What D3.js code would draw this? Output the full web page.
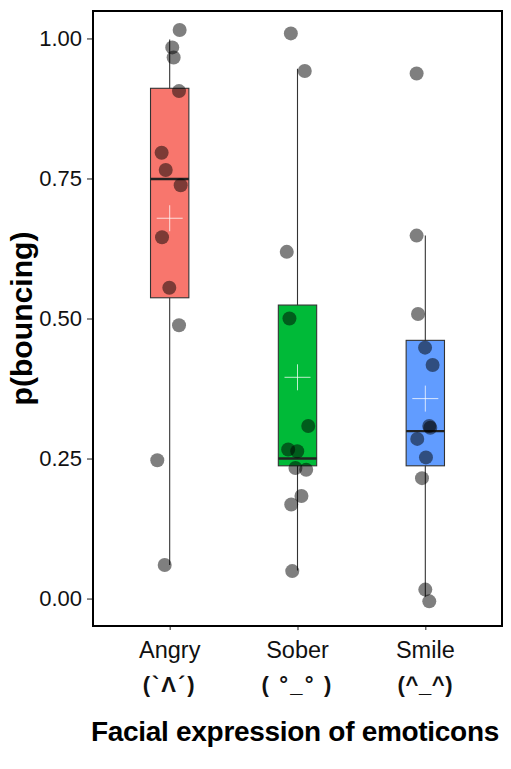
<!DOCTYPE html>
<html>
<head>
<meta charset="utf-8">
<script src="https://cdn.jsdelivr.net/npm/d3@7"></script>
<style>
  body { margin: 0; background: #fff; }
  svg text { font-family: "Liberation Sans", Arial, Helvetica, sans-serif; }
</style>
</head>
<body>
<div id="chart"></div>
<script>
// categories and labels
const categories = ["Angry", "Sober", "Smile"];
const faces = ["(`Λ´)", "( °_° )", "(^_^)"];
const faceSpacing = [2, 2.2, 0.6];
const boxColors = ["#F8766D", "#00BA38", "#619CFF"];
const yTicks = [0, 0.25, 0.5, 0.75, 1];

// box statistics
const q1 = [0.537, 0.237, 0.237];
const medians = [0.749, 0.25, 0.299];
const q3 = [0.911, 0.524, 0.461];
const whiskerLow = [0.06, 0.05, 0.003];
const whiskerHigh = [0.998, 0.946, 0.648];
const means = [0.679, 0.395, 0.357];

// jittered points (value, horizontal jitter as a fraction of one category step)
const angryValues = [1.015, 0.984, 0.966, 0.906, 0.796, 0.765, 0.738, 0.645, 0.555, 0.488, 0.247, 0.06];
const angryJitter = [0.078, 0.02, 0.031, 0.073, -0.063, -0.031, 0.086, -0.06, -0.003, 0.073, -0.097, -0.039];
const soberValues = [1.009, 0.942, 0.619, 0.5, 0.308, 0.266, 0.263, 0.233, 0.23, 0.183, 0.168, 0.049];
const soberJitter = [-0.052, 0.057, -0.084, -0.063, 0.084, -0.073, -0.002, -0.016, 0.068, 0.031, -0.049, -0.041];
const smileValues = [0.9375, 0.648, 0.508, 0.448, 0.417, 0.308, 0.305, 0.285, 0.252, 0.215, 0.016, -0.005];
const smileJitter = [-0.068, -0.068, -0.057, -0.002, 0.057, 0.031, 0.039, -0.063, 0.005, -0.026, 0, 0.031];

const width = 511, height = 769;
const margin = { top: 11, right: 9, bottom: 143, left: 93 };
const innerW = width - margin.left - margin.right;
const innerH = height - margin.top - margin.bottom;

const svg = d3.select("#chart").append("svg")
  .attr("width", width)
  .attr("height", height);

const g = svg.append("g")
  .attr("transform", `translate(${margin.left},${margin.top})`);

const x = d3.scalePoint().domain(categories).range([0, innerW]).padding(0.6);
const y = d3.scaleLinear().domain([-0.049, 1.049]).range([innerH, 0]);
const step = x.step();
const boxW = step * 0.3;

const boxes = categories.map((c, i) => ({
  name: c, q1: q1[i], med: medians[i], q3: q3[i],
  lo: whiskerLow[i], hi: whiskerHigh[i], mean: means[i], color: boxColors[i]
}));

const pointSets = [
  [angryValues, angryJitter],
  [soberValues, soberJitter],
  [smileValues, smileJitter]
];
const points = [];
pointSets.forEach(([vals, jit], i) => {
  vals.forEach((v, k) => points.push({ name: categories[i], value: v, jitter: jit[k] }));
});

// whiskers
g.selectAll("line.whisker")
  .data(boxes)
  .enter()
  .append("line")
  .attr("class", "whisker")
  .attr("x1", d => x(d.name))
  .attr("x2", d => x(d.name))
  .attr("y1", d => y(d.lo))
  .attr("y2", d => y(d.hi))
  .attr("stroke", "#333")
  .attr("stroke-width", 1.1);

// boxes
g.selectAll("rect.box")
  .data(boxes)
  .enter()
  .append("rect")
  .attr("class", "box")
  .attr("x", d => x(d.name) - boxW / 2)
  .attr("width", boxW)
  .attr("y", d => y(d.q3))
  .attr("height", d => y(d.q1) - y(d.q3))
  .attr("fill", d => d.color)
  .attr("stroke", "#333")
  .attr("stroke-width", 1.1);

// medians
g.selectAll("line.median")
  .data(boxes)
  .enter()
  .append("line")
  .attr("class", "median")
  .attr("x1", d => x(d.name) - boxW / 2)
  .attr("x2", d => x(d.name) + boxW / 2)
  .attr("y1", d => y(d.med))
  .attr("y2", d => y(d.med))
  .attr("stroke", "#222")
  .attr("stroke-width", 2.4);

// points
g.selectAll("circle")
  .data(points)
  .enter()
  .append("circle")
  .attr("cx", d => x(d.name) + d.jitter * step)
  .attr("cy", d => y(d.value))
  .attr("r", 7)
  .attr("fill", "#000")
  .attr("fill-opacity", 0.5);

// mean crosses
const cross = 13;
const meanMarks = g.selectAll("g.mean")
  .data(boxes)
  .enter()
  .append("g")
  .attr("class", "mean")
  .attr("transform", d => `translate(${x(d.name)},${y(d.mean)})`)
  .attr("stroke", "#fff")
  .attr("stroke-opacity", 0.75)
  .attr("stroke-width", 1);
meanMarks.append("line").attr("x1", -cross).attr("x2", cross);
meanMarks.append("line").attr("y1", -cross).attr("y2", cross);

// y axis
const yAxis = g.append("g")
  .call(d3.axisLeft(y).tickValues(yTicks).tickFormat(d3.format(".2f")).tickSize(6).tickPadding(5));
yAxis.select(".domain").remove();
yAxis.selectAll("line").attr("stroke", "#333").attr("stroke-width", 1.1);
yAxis.selectAll("text").attr("font-size", 22).attr("fill", "#111");

// x axis
const xAxis = g.append("g")
  .attr("transform", `translate(0,${innerH})`)
  .call(d3.axisBottom(x).tickSize(4).tickFormat(""));
xAxis.select(".domain").remove();
xAxis.selectAll("line").attr("stroke", "#333").attr("stroke-width", 1.1);

const xLabels = g.selectAll("g.xlab")
  .data(categories)
  .enter()
  .append("g")
  .attr("class", "xlab")
  .attr("transform", d => `translate(${x(d)},${innerH})`);
xLabels.append("text")
  .attr("y", 32)
  .attr("text-anchor", "middle")
  .attr("font-size", 23.5)
  .attr("fill", "#111")
  .text(d => d);
xLabels.append("text")
  .attr("y", 66)
  .attr("text-anchor", "middle")
  .attr("font-size", 22)
  .attr("font-weight", "bold")
  .attr("letter-spacing", (d, i) => faceSpacing[i])
  .attr("fill", "#111")
  .text((d, i) => faces[i]);

// panel border
g.append("rect")
  .attr("width", innerW)
  .attr("height", innerH)
  .attr("fill", "none")
  .attr("stroke", "#000")
  .attr("stroke-width", 2);

// axis titles
svg.append("text")
  .attr("transform", `translate(32,${margin.top + innerH / 2}) rotate(-90)`)
  .attr("text-anchor", "middle")
  .attr("font-size", 29)
  .attr("font-weight", "bold")
  .attr("textLength", 174)
  .attr("lengthAdjust", "spacingAndGlyphs")
  .text("p(bouncing)");

svg.append("text")
  .attr("x", 295)
  .attr("y", 741)
  .attr("text-anchor", "middle")
  .attr("font-size", 28)
  .attr("font-weight", "bold")
  .attr("letter-spacing", -0.3)
  .text("Facial expression of emoticons");
</script>
</body>
</html>
